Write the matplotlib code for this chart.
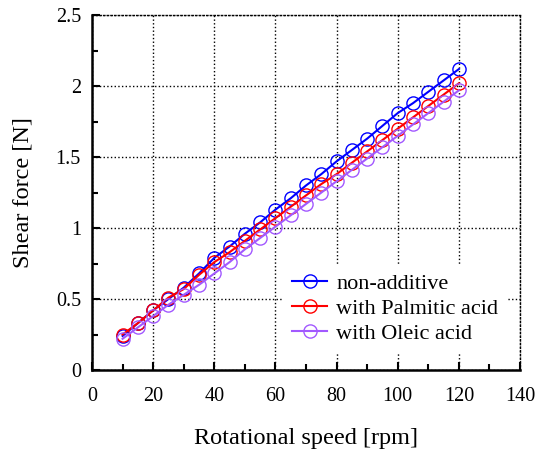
import matplotlib
matplotlib.use("Agg")
import matplotlib.pyplot as plt
from matplotlib.ticker import MultipleLocator

speed = [10, 15, 20, 25, 30, 35, 40, 45, 50, 55, 60, 65, 70, 75, 80, 85, 90, 95, 100, 105, 110, 115, 120]
non_additive = [0.24, 0.33, 0.42, 0.50, 0.58, 0.68, 0.79, 0.87, 0.96, 1.04, 1.13, 1.21, 1.30, 1.38, 1.47, 1.55, 1.63, 1.72, 1.81, 1.88, 1.96, 2.04, 2.12]
palmitic = [0.25, 0.33, 0.42, 0.51, 0.57, 0.67, 0.76, 0.83, 0.91, 0.99, 1.07, 1.15, 1.23, 1.31, 1.38, 1.46, 1.54, 1.62, 1.70, 1.78, 1.86, 1.94, 2.02]
oleic = [0.22, 0.30, 0.38, 0.46, 0.53, 0.60, 0.68, 0.76, 0.85, 0.93, 1.01, 1.09, 1.17, 1.25, 1.33, 1.41, 1.49, 1.57, 1.65, 1.73, 1.81, 1.89, 1.97]
labels = ["non-additive", "with Palmitic acid", "with Oleic acid"]
colors = ["#0000ff", "#ff0000", "#a259ff"]
yticks = [0, 0.5, 1, 1.5, 2, 2.5]
ytick_labels = ['0', '0.5', '1', '1.5', '2', '2.5']

plt.rcParams['font.family'] = ['Liberation Serif', 'DejaVu Serif']

fig = plt.figure(figsize=(5.39, 4.59), dpi=100)
ax = fig.add_axes([0.1707, 0.1939, 0.7941, 0.7731])

for ys, lab, c in zip([non_additive, palmitic, oleic], labels, colors):
    ax.plot(speed, ys, color=c, lw=1.5, marker='o', ms=9.5, mfc='none', mec=c, mew=1.0, label=lab)

ax.set_xlim(0, 140)
ax.set_ylim(0, 2.5)
ax.xaxis.set_major_locator(MultipleLocator(20))
ax.xaxis.set_minor_locator(MultipleLocator(10))
ax.set_yticks(yticks)
ax.set_yticklabels(ytick_labels)
ax.yaxis.set_minor_locator(MultipleLocator(0.25))

ax.grid(True, which='major', color='black', linestyle=':', linewidth=1.0)
ax.tick_params(which='both', direction='in', top=False, right=False, labelsize=14.5, width=1.5)
ax.tick_params(which='major', length=6)
ax.tick_params(which='minor', length=4)
ax.tick_params(axis='x', which='major', pad=12)
ax.tick_params(axis='y', which='major', pad=8)

for s in ['left', 'bottom']:
    ax.spines[s].set_linewidth(1.8)
for s in ['top', 'right']:
    ax.spines[s].set_linestyle(':')
    ax.spines[s].set_linewidth(1.0)

ax.set_xlabel('Rotational speed [rpm]', fontsize=17.5)
ax.set_ylabel('Shear force [N]', fontsize=17.5)
ax.xaxis.set_label_coords(0.5, -0.163)
ax.yaxis.set_label_coords(-0.136, 0.5)

leg = ax.legend(loc='upper left', bbox_to_anchor=(0.446, 0.298), borderaxespad=0, fontsize=16,
                frameon=True, edgecolor='none', facecolor='white', framealpha=1.0,
                handlelength=1.6, handletextpad=0.4, labelspacing=0.2, borderpad=0.4)

fig.savefig('out.png', dpi=100)
